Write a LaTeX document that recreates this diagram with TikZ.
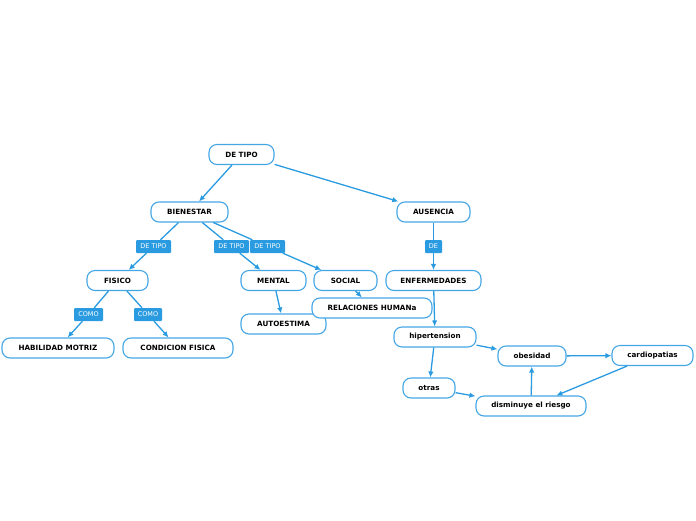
\documentclass[tikz,border=0pt]{standalone}
\usepackage{fontspec}
\setmainfont{DejaVu Sans}
\usetikzlibrary{arrows.meta}
\definecolor{mapblue}{HTML}{2A9BE0}
\definecolor{boxblue}{HTML}{45A6E6}

\begin{document}
\begin{tikzpicture}
	[x=1pt,y=-1pt,
	box/.style={draw=boxblue, line width=1.1pt, rounded corners=8pt, fill=white, minimum height=20pt, inner sep=1pt, font=\fontsize{7.2}{8}\selectfont\bfseries},
	tag/.style={fill=mapblue, text=white, minimum height=13pt, inner sep=2pt, rounded corners=1pt, font=\fontsize{6.5}{7}\selectfont},
	link/.style={draw=mapblue, line width=1.3pt},
	arr/.style={link, -{Latex[length=6pt,width=5.5pt]}}];

	\useasboundingbox (0,0) rectangle (696,520);

	%Boxes
	\node[box, minimum width=65pt] (detipo) at (241.5,154.5) {DE TIPO};
	\node[box, minimum width=77pt] (bien) at (189.5,212) {BIENESTAR};
	\node[box, minimum width=73pt] (aus) at (433.5,212) {AUSENCIA};
	\node[box, minimum width=61pt] (fis) at (117.5,280.5) {FISICO};
	\node[box, minimum width=65pt] (ment) at (273.5,280.5) {MENTAL};
	\node[box, minimum width=63pt] (soc) at (345.5,280.5) {SOCIAL};
	\node[box, minimum width=95pt] (enf) at (433.5,280.5) {ENFERMEDADES};
	\node[box, minimum width=112pt] (hab) at (58,348) {HABILIDAD MOTRIZ};
	\node[box, minimum width=110pt] (cond) at (178,348) {CONDICION FISICA};
	\node[box, minimum width=85pt] (auto) at (283.5,324) {AUTOESTIMA};
	\node[box, minimum width=120pt] (rel) at (372,308) {RELACIONES HUMANa};
	\node[box, minimum width=82pt] (hip) at (435,337) {hipertension};
	\node[box, minimum width=68pt] (obe) at (532,356) {obesidad};
	\node[box, minimum width=81pt] (card) at (652.5,355.5) {cardiopatias};
	\node[box, minimum width=52pt] (otr) at (429,388) {otras};
	\node[box, minimum width=110pt] (dism) at (531,406) {disminuye el riesgo};

	%Tags
	\node[tag, minimum width=35pt] (t1) at (153.5,246.5) {DE TIPO};
	\node[tag, minimum width=35pt] (t2) at (231.5,246.5) {DE TIPO};
	\node[tag, minimum width=35pt] (t3) at (267.5,246.5) {DE TIPO};
	\node[tag, minimum width=17pt] (t4) at (433.5,246.5) {DE};
	\node[tag, minimum width=29pt] (t5) at (88.5,314.5) {COMO};
	\node[tag, minimum width=28pt] (t6) at (148,314.5) {COMO};

	%Links
	\draw[arr] (detipo) -- (bien);
	\draw[arr] (detipo) -- (aus);
	\draw[link] (bien) -- (t1);
	\draw[arr] (t1) -- (fis);
	\draw[link] (bien) -- (t2);
	\draw[arr] (t2) -- (ment);
	\draw[link] (bien) -- (t3);
	\draw[arr] (t3) -- (soc);
	\draw[link] (aus) -- (t4);
	\draw[arr] (t4) -- (enf);
	\draw[link] (fis) -- (t5);
	\draw[arr] (t5) -- (hab);
	\draw[link] (fis) -- (t6);
	\draw[arr] (t6) -- (cond);
	\draw[arr] (ment) -- (auto);
	\draw[arr] (soc) -- (rel);
	\draw[arr] (enf) -- (hip);
	\draw[arr] (hip) -- (obe);
	\draw[arr] (hip) -- (otr);
	\draw[arr] (obe) -- (card);
	\draw[arr] (card) -- (dism);
	\draw[arr] (otr) -- (dism);
	\draw[arr] (dism) -- (obe);
\end{tikzpicture}
\end{document}
